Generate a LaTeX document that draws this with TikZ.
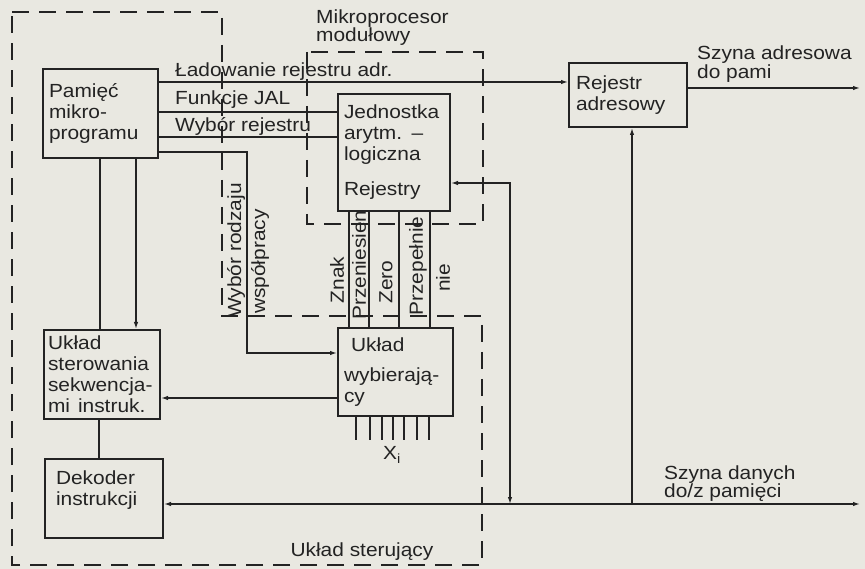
\documentclass[tikz,border=0pt]{standalone}
\usepackage{fontspec}
\setmainfont{Liberation Sans}[FakeStretch=1.1]
\usetikzlibrary{arrows.meta,calc}
\definecolor{paper}{RGB}{233,232,225}
\definecolor{ink}{RGB}{35,35,35}
\begin{document}
\begin{tikzpicture}[x=1pt,y=-1pt,
  every node/.style={font=\fontsize{19}{21}\selectfont, text=ink},
  blk/.style={draw=ink, line width=2pt, anchor=north west, align=left,
              inner ysep=0pt, inner xsep=6pt},
  conn/.style={draw=ink, line width=1.3pt},
  tip/.style={-{Latex[length=7pt,width=4.5pt]}},
  bitip/.style={{Latex[length=7pt,width=4.5pt]}-{Latex[length=7pt,width=4.5pt]}},
  bound/.style={draw=ink, line width=1.3pt, dash pattern=on 17pt off 10pt},
  lbl/.style={inner sep=0pt},
]
\fill[paper] (0,0) rectangle (865,569);
\useasboundingbox (0,0) rectangle (865,569);

% dashed boundaries
\draw[bound] (12,12) -- (222,12) -- (222,316) -- (482,316) -- (482,565) -- (12,565) -- cycle;
\draw[bound] (307,52) rectangle (483,224);

% blocks
\node[blk, minimum width=115pt, minimum height=89pt, text width=103pt] (pam) at (42,68)
  {Pamięć\\mikro-\\programu};
\node[blk, minimum width=112pt, minimum height=117pt, text width=100pt] (jed) at (337,93)
  {Jednostka\\arytm. –\\logiczna\\[14pt]Rejestry};
\node[blk, minimum width=116pt, minimum height=64pt, text width=104pt, inner xsep=7pt] (radr) at (568,62)
  {Rejestr\\adresowy};
\node[blk, minimum width=116pt, minimum height=89pt, text width=108pt, inner xsep=4pt] (ust) at (43,329)
  {Układ\\sterowania\\sekwencja-\\\mbox{mi\hspace{8pt}instruk.}};
\node[blk, minimum width=118pt, minimum height=79pt, text width=96pt, inner xsep=11pt] (dek) at (44,458)
  {Dekoder\\instrukcji\\\mbox{}};
\node[blk, minimum width=115pt, minimum height=88pt, text width=103pt] (wyb) at (337,327)
  {\hspace{7pt}Układ\\[9pt]wybierają-\\cy};

% labels
\node[lbl, anchor=west] (tLad) at (175,72) {Ładowanie rejestru adr.};
\node[lbl, anchor=west] (tFun) at (175,100) {Funkcje JAL};
\node[lbl, anchor=west] (tWyr) at (175,126) {Wybór rejestru};
\node[lbl, anchor=north west, align=left, font=\fontsize{19}{18}\selectfont] (tMik) at (316,10)
  {Mikroprocesor\\modułowy};
\node[lbl, anchor=north west, align=left, font=\fontsize{19}{17}\selectfont] (tSza) at (697,46)
  {Szyna adresowa\\do pami};
\node[lbl, anchor=north west, align=left, font=\fontsize{19}{18}\selectfont] (tSzd) at (664,466)
  {Szyna danych\\do/z pamięci};
\node[lbl] (tUst) at (362,552) {Układ sterujący};
\node[lbl] (tXi) at (392,455) {X\textsubscript{i}};
\node[lbl, rotate=90] (tZn) at (337,280) {Znak};
\node[lbl, rotate=90] (tPn) at (359,265) {Przeniesien};
\node[lbl, rotate=90] (tZe) at (386,282) {Zero};
\node[lbl, rotate=90] (tPp) at (418,266) {Przepełnie};
\node[lbl, rotate=90] (tNie) at (443,278) {nie};
\node[lbl, rotate=90, anchor=west] (tWr1) at (236,318) {Wybór rodzaju};
\node[lbl, rotate=90, anchor=west] (tWr2) at (260,314) {współpracy};

% connectors from the microprogram memory
\coordinate (l1) at ($(pam.north east)+(0,14)$);
\coordinate (l2) at ($(pam.north east)+(0,44)$);
\coordinate (l3) at ($(pam.north east)+(0,69)$);
\coordinate (l4) at ($(pam.north east)+(0,84)$);
\draw[conn, tip] (l1) -- (l1 -| radr.west);
\draw[conn] (l2) -- (l2 -| jed.west);
\draw[conn] (l3) -- (l3 -| jed.west);
\coordinate (wr) at ($(wyb.north west)+(-90,26)$);
\draw[conn, tip] (l4) -| (wr) -- (wr -| wyb.west);

\coordinate (v1) at ($(pam.south west)+(58,0)$);
\coordinate (v2) at ($(pam.south west)+(94,0)$);
\draw[conn] (v1) -- (v1 |- ust.north);
\draw[conn, tip] (v2) -- (v2 |- ust.north);

\coordinate (v3) at ($(ust.south west)+(56,0)$);
\draw[conn] (v3) -- (v3 |- dek.north);

\coordinate (w1) at ($(wyb.north west)+(0,71)$);
\draw[conn, tip] (w1) -- (w1 -| ust.east);

% flags ALU -> selector
\foreach \dx in {12,32,62,93}
  \draw[conn] ($(jed.south west)+(\dx,0)$) coordinate (fl) -- (fl |- wyb.north);

% inputs X_i
\foreach \dx in {19,33,45,56,67,80,92}
  \draw[conn] ($(wyb.south west)+(\dx,0)$) -- ++(0,23);

% data bus
\coordinate (bl) at ($(dek.north east)+(0,46)$);
\coordinate (br) at (860,504);
\draw[conn, bitip] (bl) -- (br);

\coordinate (r1) at ($(jed.north east)+(0,90)$);
\coordinate (rx) at (510,0);
\draw[conn, bitip] (r1) -| (rx |- bl);

\coordinate (ax) at ($(radr.south west)+(64,0)$);
\draw[conn, tip] (ax |- bl) -- (ax);

% address bus
\coordinate (sa) at ($(radr.north east)+(0,26)$);
\draw[conn, tip] (sa) -- (sa -| br);
\end{tikzpicture}
\end{document}
